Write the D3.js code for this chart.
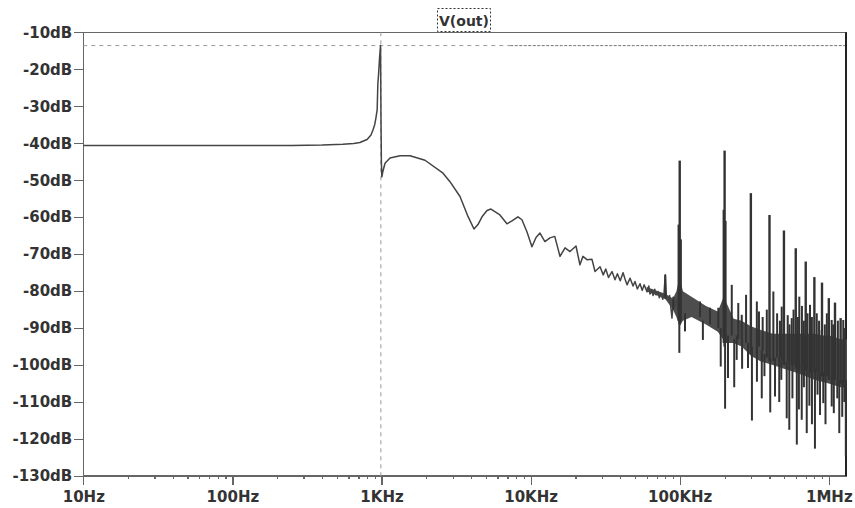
<!DOCTYPE html>
<html>
<head>
<meta charset="utf-8">
<script src="https://cdn.jsdelivr.net/npm/d3@7"></script>
<style>
  body { margin:0; background:#fff; }
  svg text { font-family:"DejaVu Sans", sans-serif; font-weight:bold; fill:#333; }
</style>
</head>
<body>
<svg id="canvas" width="855" height="508"></svg>
<script>
// FFT of V(out): main trace, Hz / dB
var traceHz = [10, 30, 100, 250, 400, 550, 650, 716, 800, 850, 876, 900, 917, 935, 945, 955, 970, 985, 992, 998,
  1005, 1023, 1056, 1140, 1331, 1553, 1958, 2585, 2879, 3360, 3802, 4170, 4436, 4720, 5100, 5420, 6224, 6937, 7500,
  8224, 8746, 9460, 10207, 10870, 11552, 12470, 13480, 14520, 15740, 17020, 18370, 20150, 21420, 22440, 23870, 25800,
  27030, 29220, 30700, 31900, 33300, 35150, 36810, 38200, 39900, 41690, 43000, 44340, 46450, 48650, 50100, 52000,
  54170, 56000, 57740, 60370, 62000, 63240, 65000, 66220, 68000, 69340, 71460, 73000, 74840, 77000, 78500, 80000,
  81500, 83370, 85500, 88720, 90500, 92900, 95000, 97000];
var traceDb = [-40.6, -40.6, -40.6, -40.6, -40.5, -40.3, -40.1, -39.8, -39.0, -37.8, -36.4, -35.0, -33.2, -31.0, -24.0, -21.5, -17.0, -13.6, -34.0, -45.0,
  -49.1, -47.5, -45.4, -44.0, -43.4, -43.4, -44.6, -48.1, -50.4, -54.4, -59.8, -63.2, -62.0, -59.9, -58.2, -57.8, -59.4, -61.8, -61.0,
  -59.9, -60.7, -64.0, -68.0, -65.5, -64.3, -66.6, -65.6, -65.2, -70.6, -68.3, -69.3, -67.8, -72.9, -70.6, -71.5, -71.4,
  -74.7, -73.4, -75.6, -74.0, -76.3, -74.7, -76.9, -75.3, -77.2, -75.0, -76.8, -78.3, -76.5, -78.6, -77.4, -79.4,
  -78.0, -79.8, -78.3, -80.2, -78.6, -80.8, -79.6, -81.2, -79.5, -81.0, -80.1, -81.8, -80.6, -82.2, -80.5, -75.6,
  -82.0, -82.4, -81.2, -87.3, -82.5, -84.0, -82.0, -85.0];

// noise floor above ~60 kHz: upper and lower edge
var bandHz = [60000, 70000, 80000, 90000, 95000, 100000, 105000, 120000, 150000, 180000,
  195000, 200000, 205000, 230000, 260000, 300000, 350000, 420000, 500000, 600000, 700000, 800000, 900000,
  1000000, 1100000, 1200000, 1324000];
var bandHi = [-78.9, -79.9, -80.7, -82, -80, -76, -80, -81.5, -84, -85.5,
  -82, -76, -83, -87.5, -88, -89.5, -90.5, -91.5, -91.5, -91.5, -91.5, -91.5, -92,
  -92, -92.5, -93, -93];
var bandLo = [-80.1, -81.1, -82.1, -85, -87, -89.5, -88, -87, -89, -91,
  -93, -95, -94, -94, -95, -97.5, -99, -100, -101, -102, -103, -104, -104.5,
  -105, -105.5, -106, -106];

// spikes: frequency, top, bottom (dB)
var spikeHz = [
  100000, 98500, 101500, 200000, 197500, 202500, 300000, 400000, 500000, 600000, 700000, 800000, 900000, 1000000, 1100000, 1200000,
  80000, 90600, 136800, 159600, 181500, 223400, 247000, 260600, 278600, 329000, 340000, 360000, 383700, 424600, 450000, 470000,
  483000, 530000, 545000, 564000, 580000, 620000, 634000, 660000, 680000, 720000, 748000, 770000, 830000, 860000, 896000, 940000,
  970000, 1045000, 1070000, 1150000, 1250000, 1280000,
  99400, 108500, 143000, 188400, 201500, 210800, 232000, 241000, 262000, 287000, 305000, 329500, 355000, 370000, 404600, 435500,
  465000, 480000, 522000, 543000, 570000, 610000, 630000, 658000, 680500, 711000, 740500, 770500, 807000, 840000, 873000, 918000,
  950000, 1045500, 1080000, 1140000, 1175000, 1230000, 1270000, 1300000];
var spikeHi = [
  -44.7, -62, -66, -42, -58, -61, -53.5, -59.4, -63.6, -68.4, -72, -76.2, -77.7, -81.9, -83.1, -87.3,
  -75.6, -81.5, -82.8, -84.5, -84.5, -78.3, -83.2, -86.4, -81, -82.8, -85.5, -87, -85, -80.1, -86, -88,
  -84.2, -86.5, -89, -87.3, -85, -87, -81.5, -84, -88, -86, -83.7, -87, -86, -88, -90.5, -89,
  -86, -87.8, -89, -88, -87.8, -90,
  -85, -86, -88, -90, -92, -92, -93, -92, -93, -94, -95, -95, -96, -97, -98, -98,
  -98, -99, -99, -99, -100, -100, -100, -100, -101, -100, -101, -101, -101, -102, -102, -102,
  -103, -103, -104, -104, -104, -104, -105, -104];
var spikeLo = [
  -89, -88, -88, -95, -94, -94, -97, -99, -100, -101, -101.5, -102, -103, -104, -104, -105,
  -82, -85, -87, -89, -90, -92, -93, -93, -94, -97, -95, -96, -98, -99, -98, -98,
  -99, -99, -99, -100, -100, -100, -101, -100, -101, -101, -102, -101, -102, -102, -103, -103,
  -103, -104, -104, -104, -105, -105,
  -96.7, -90.9, -93.2, -100.4, -111.8, -103.5, -106, -98.6, -101, -100.8, -115, -104.5, -109, -103, -112.8, -108.5,
  -110, -104, -114.4, -117.5, -109, -121.5, -112, -114.8, -106, -118.4, -111, -116, -122.6, -108, -113.5, -110.3,
  -116, -111.2, -113, -109, -118.4, -114, -110, -124.7];

// cursor position
var cursorHz = 990, cursorDb = -13.6;

var xTickHz = [10, 100, 1000, 10000, 100000, 1000000];
var xTickText = ["10Hz", "100Hz", "1KHz", "10KHz", "100KHz", "1MHz"];
var yTicks = [-10, -20, -30, -40, -50, -60, -70, -80, -90, -100, -110, -120, -130];

var padL = 83.3, padR = 847, padT = 32.3, padB = 476;

var svg = d3.select("#canvas");

var x = d3.scaleLog().domain([10, 1324000]).range([padL, padR]);
var y = d3.scaleLinear().domain([-130, -10]).range([padB, padT]);

// minor ticks 2..9 of each decade
var minorHz = [];
xTickHz.forEach(function(d) {
  for (var k = 2; k <= 9; k++) { if (d * k < 1324000) minorHz.push(d * k); }
});

var gxMinor = svg.append("g").attr("transform", "translate(0," + padB + ")")
  .call(d3.axisBottom(x).tickValues(minorHz).tickSize(3).tickFormat(""));
var gx = svg.append("g").attr("transform", "translate(0," + padB + ")")
  .call(d3.axisBottom(x).tickValues(xTickHz).tickSize(9).tickPadding(6)
    .tickFormat(function(d, i) { return xTickText[i]; }));
var gy = svg.append("g").attr("transform", "translate(" + padL + ",0)")
  .call(d3.axisLeft(y).tickValues(yTicks).tickSize(9).tickPadding(2)
    .tickFormat(function(d) { return d + "dB"; }));

[gxMinor, gx, gy].forEach(function(g) {
  g.select(".domain").remove();
  g.attr("font-family", null).attr("font-size", null);
  g.selectAll("line").attr("stroke", "#666").attr("stroke-width", 1.2).attr("shape-rendering", "crispEdges");
  g.selectAll("text").style("font-size", "15px").attr("fill", "#333");
});

// frame
svg.append("path")
  .attr("d", "M" + padR + "," + padT + "H" + padL + "V" + padB + "H" + padR)
  .attr("fill", "none").attr("stroke", "#666").attr("stroke-width", 1.2)
  .attr("shape-rendering", "crispEdges");
svg.append("line")
  .attr("x1", padR - 1).attr("x2", padR - 1).attr("y1", padT).attr("y2", padB)
  .attr("stroke", "#222").attr("stroke-width", 2);

// cursor cross
svg.append("line")
  .attr("x1", padL).attr("x2", x(7300)).attr("y1", y(cursorDb)).attr("y2", y(cursorDb))
  .attr("stroke", "#999").attr("stroke-dasharray", "4,4");
svg.append("line")
  .attr("x1", x(7300)).attr("x2", padR - 2).attr("y1", y(cursorDb)).attr("y2", y(cursorDb))
  .attr("stroke", "#777").attr("stroke-dasharray", "3,1.5");
svg.append("line")
  .attr("x1", x(cursorHz)).attr("x2", x(cursorHz)).attr("y1", padT).attr("y2", padB)
  .attr("stroke", "#999").attr("stroke-dasharray", "4,4");

var plot = svg.append("g");

var band = bandHz.map(function(d, i) { return { f: d, hi: bandHi[i], lo: bandLo[i] }; });
plot.append("path").datum(band)
  .attr("fill", "#4d4d4d")
  .attr("d", d3.area()
    .x(function(d) { return x(d.f); })
    .y0(function(d) { return y(d.lo); })
    .y1(function(d) { return y(d.hi); }));

var trace = traceHz.map(function(d, i) { return { f: d, db: traceDb[i] }; });
plot.append("path").datum(trace)
  .attr("fill", "none").attr("stroke", "#444").attr("stroke-width", 1.5)
  .attr("stroke-linejoin", "round")
  .attr("d", d3.line()
    .x(function(d) { return x(d.f); })
    .y(function(d) { return y(d.db); }));

var spikes = spikeHz.map(function(d, i) { return { f: d, hi: spikeHi[i], lo: spikeLo[i] }; });
plot.selectAll("line.spike").data(spikes).enter()
  .append("line").attr("class", "spike")
  .attr("x1", function(d) { return x(d.f); })
  .attr("x2", function(d) { return x(d.f); })
  .attr("y1", function(d) { return y(d.hi); })
  .attr("y2", function(d) { return y(d.lo); })
  .attr("stroke", "#333")
  .attr("stroke-width", function(d, i) { return i < 16 ? 2.4 : 2; });

// trace name
var title = svg.append("g");
title.append("rect")
  .attr("x", 437.5).attr("y", 8.5).attr("width", 53).attr("height", 23)
  .attr("fill", "none").attr("stroke", "#333").attr("stroke-dasharray", "2,2");
title.append("text")
  .attr("x", 464).attr("y", 25.5).attr("text-anchor", "middle")
  .style("font-size", "14px").text("V(out)");
</script>
</body>
</html>
